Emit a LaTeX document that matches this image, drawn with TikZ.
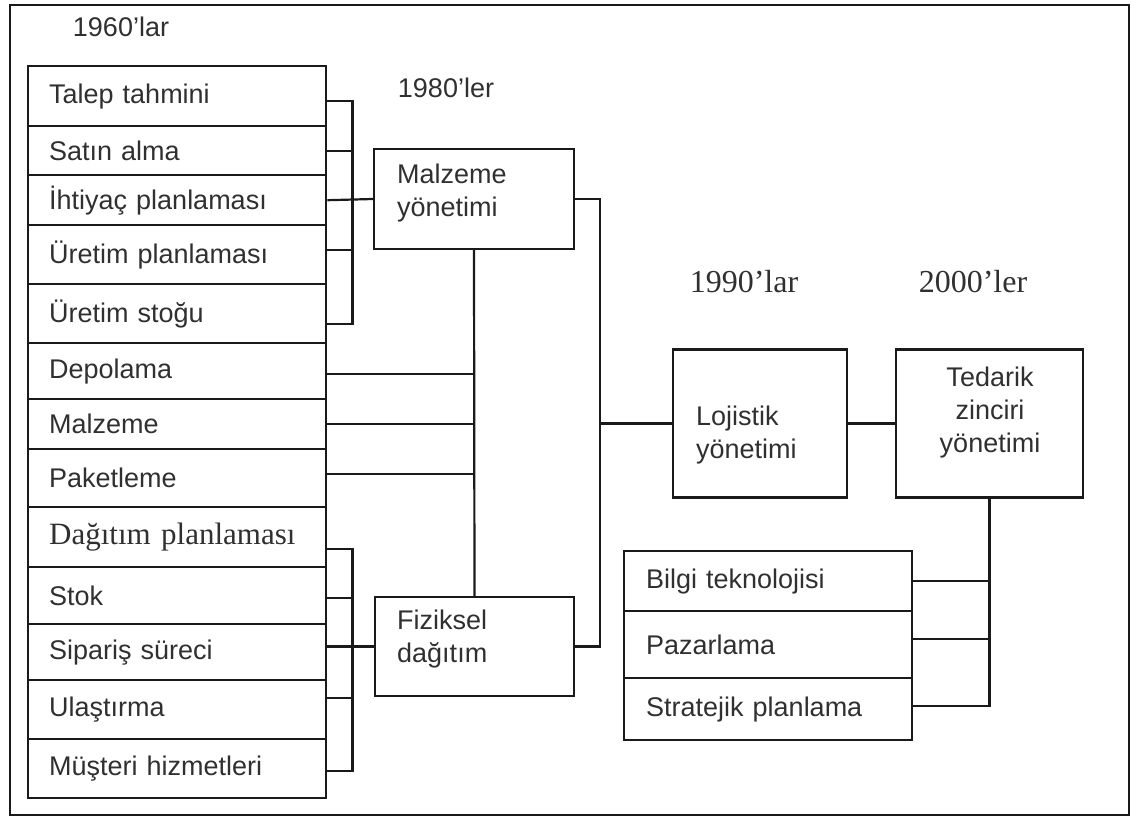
\documentclass[tikz,border=0pt]{standalone}
\usepackage{fontspec}
\usetikzlibrary{calc}
\newfontfamily\lsans{Liberation Sans}
\newfontfamily\lserif{Liberation Serif}
\definecolor{ink}{HTML}{1A1A1A}
\definecolor{txt}{HTML}{303030}

\begin{document}
\begin{tikzpicture}[x=1pt,y=-1pt,
  every node/.style={text=txt},
  cell/.style={draw=ink, line width=2.4pt, anchor=north west, inner ysep=0pt,
    align=left, font=\lsans\fontsize{27}{33}\selectfont},
  lcell/.style={cell, text width=256pt, inner xsep=21pt},
  rcell/.style={cell, text width=244pt, inner xsep=22pt},
  bigbox/.style={draw=ink, line width=2.4pt, inner sep=0pt},
  boxtext/.style={font=\lsans\fontsize{27}{33}\selectfont, inner sep=0pt},
  era/.style={font=\lsans\fontsize{27}{33}\selectfont, inner sep=0pt},
  eraserif/.style={font=\lserif\fontsize{32}{36}\selectfont, inner sep=0pt},
  conn/.style={draw=ink, line width=2.2pt}]

\useasboundingbox (0,0) rectangle (1136,817);
\draw[ink, line width=2.4pt] (10,5) rectangle (1129,815);

% era headings
\node[era] (e60) at (121,27) {1960’lar};
\node[era] (e80) at (446,88) {1980’ler};
\node[eraserif] (e90) at (744,282) {1990’lar};
\node[eraserif] (e00) at (973,282) {2000’ler};

% left column of activities
\node[lcell, minimum height=60pt] (lt1) at (27,65) {Talep tahmini};
\node[lcell, minimum height=49pt] (lt2) at (27,125) {Satın alma};
\node[lcell, minimum height=50pt] (lt3) at (27,174) {İhtiyaç planlaması};
\node[lcell, minimum height=59pt] (lt4) at (27,224) {Üretim planlaması};
\node[lcell, minimum height=59pt] (lt5) at (27,283) {Üretim stoğu};
\node[lcell, minimum height=56pt] (lt6) at (27,342) {Depolama};
\node[lcell, minimum height=50pt] (lt7) at (27,398) {Malzeme};
\node[lcell, minimum height=58pt] (lt8) at (27,448) {Paketleme};
\node[lcell, minimum height=60pt, font=\lserif\fontsize{31}{35}\selectfont] (lt9) at (27,506) {Dağıtım planlaması};
\node[lcell, minimum height=57pt] (lt10) at (27,566) {Stok};
\node[lcell, minimum height=56pt] (lt11) at (27,623) {Sipariş süreci};
\node[lcell, minimum height=59pt] (lt12) at (27,679) {Ulaştırma};
\node[lcell, minimum height=59pt] (lt13) at (27,738) {Müşteri hizmetleri};

% management boxes
\node[bigbox, minimum width=200pt, minimum height=100pt] (malz) at (474,199) {};
\node[boxtext, anchor=west, align=left] (malzT) at (397,193.5) {Malzeme\\yönetimi};
\node[bigbox, minimum width=199pt, minimum height=99pt] (fiz) at (474.5,646.5) {};
\node[boxtext, anchor=west, align=left] (fizT) at (397,639) {Fiziksel\\dağıtım};
\node[bigbox, minimum width=174pt, minimum height=148pt] (log) at (760,423.5) {};
\node[boxtext, anchor=west, align=left] (logT) at (696,435.5) {Lojistik\\yönetimi};
\node[bigbox, minimum width=187pt, minimum height=148pt] (ted) at (989.5,423.5) {};
\node[boxtext, align=center] (tedT) at (990,412.5) {Tedarik\\zinciri\\yönetimi};

% right column of activities
\node[rcell, minimum height=60pt] (rt1) at (623,550) {Bilgi teknolojisi};
\node[rcell, minimum height=67pt] (rt2) at (623,610) {Pazarlama};
\node[rcell, minimum height=62pt] (rt3) at (623,677) {Stratejik planlama};

% upper bracket into materials management
\draw[conn] ($(lt1.east)+(0,5)$) -- ++(25,0) |- ($(lt5.east)+(0,10.5)$);
\draw[conn] (lt2.east) -- ++(25,0);
\draw[conn] ($(lt4.east)+(0,-4.5)$) -- ++(25,0);
\draw[conn] (lt3.east) -- (malz.west);

% middle spine
\draw[conn] (malz.south) -- (fiz.north);
\draw[conn] ($(lt6.east)+(0,3)$) coordinate (d6) -- (d6 -| malz.south);
\draw[conn] (lt7.east) -- (lt7.east -| malz.south);
\draw[conn] ($(lt8.east)+(0,-4)$) coordinate (d8) -- (d8 -| malz.south);

% lower bracket into physical distribution
\draw[conn] ($(lt9.east)+(0,12)$) -- ++(25,0) |- ($(lt13.east)+(0,2.5)$);
\draw[conn] ($(lt10.east)+(0,2.5)$) -- ++(25,0);
\draw[conn] ($(lt12.east)+(0,-11.5)$) -- ++(25,0);
\draw[conn] (fiz.west) -- (fiz.west -| lt11.east);

% logistics and supply chain
\draw[conn] (malz.east) -- ++(25,0) |- (fiz.east);
\coordinate (jn) at (599,423.5);
\draw[conn] (jn) -- (log.west);
\draw[conn] (log.east) -- (ted.west);
\draw[conn] (ted.south) |- ($(rt3.east)+(0,-3)$);
\draw[conn] (rt1.east) -- (rt1.east -| ted.south);
\draw[conn] ($(rt2.east)+(0,-5.5)$) coordinate (d2) -- (d2 -| ted.south);

\end{tikzpicture}
\end{document}
